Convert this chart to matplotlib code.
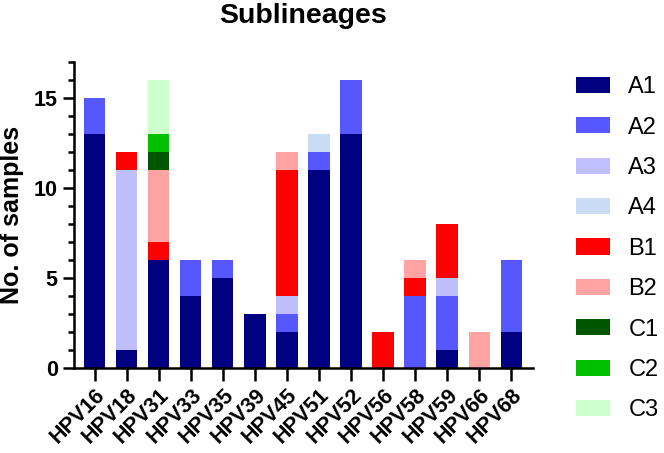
import numpy as np
import matplotlib
matplotlib.use("Agg")
import matplotlib.pyplot as plt
from matplotlib.ticker import MultipleLocator

plt.rcParams["font.family"] = ["Liberation Sans", "DejaVu Sans"]

types = ["HPV16", "HPV18", "HPV31", "HPV33", "HPV35", "HPV39", "HPV45",
         "HPV51", "HPV52", "HPV56", "HPV58", "HPV59", "HPV66", "HPV68"]

# counts per sublineage, one value per HPV type
A1 = [13, 1, 6, 4, 5, 3, 2, 11, 13, 0, 0, 1, 0, 2]
A2 = [2, 0, 0, 2, 1, 0, 1, 1, 3, 0, 4, 3, 0, 4]
A3 = [0, 10, 0, 0, 0, 0, 1, 0, 0, 0, 0, 1, 0, 0]
A4 = [0, 0, 0, 0, 0, 0, 0, 1, 0, 0, 0, 0, 0, 0]
B1 = [0, 1, 1, 0, 0, 0, 7, 0, 0, 2, 1, 3, 0, 0]
B2 = [0, 0, 4, 0, 0, 0, 1, 0, 0, 0, 1, 0, 2, 0]
C1 = [0, 0, 1, 0, 0, 0, 0, 0, 0, 0, 0, 0, 0, 0]
C2 = [0, 0, 1, 0, 0, 0, 0, 0, 0, 0, 0, 0, 0, 0]
C3 = [0, 0, 3, 0, 0, 0, 0, 0, 0, 0, 0, 0, 0, 0]

sublineages = ["A1", "A2", "A3", "A4", "B1", "B2", "C1", "C2", "C3"]
series = [A1, A2, A3, A4, B1, B2, C1, C2, C3]
colors = ["#000080", "#5757FF", "#BFBFFF", "#C8DCF6", "#FF0000",
          "#FFA3A3", "#005500", "#00C000", "#CCFFCC"]

fig = plt.figure(figsize=(6.64, 4.53), dpi=100)
ax = fig.add_axes([0.111, 0.188, 0.692, 0.675])

x = np.arange(len(types))
bottom = np.zeros(len(types))
for name, vals, col in zip(sublineages, series, colors):
    ax.bar(x, vals, width=0.66, bottom=bottom, color=col, label=name, linewidth=0)
    bottom += np.array(vals)

ax.set_xlim(-0.66, 13.69)
ax.set_ylim(0, 17)
ax.yaxis.set_major_locator(MultipleLocator(5))
ax.yaxis.set_minor_locator(MultipleLocator(1))
ax.set_xticks(x)
ax.set_xticklabels(types, rotation=45, ha="right", rotation_mode="anchor",
                   fontsize=15.5, fontweight="bold")
for lab in ax.get_yticklabels():
    lab.set_fontweight("bold")
ax.tick_params(axis="y", which="major", labelsize=15.5, width=1.8, length=8)
ax.tick_params(axis="y", which="minor", width=1.8, length=4)
ax.tick_params(axis="x", width=1.8, length=9, pad=3)

for s in ["top", "right"]:
    ax.spines[s].set_visible(False)
for s in ["left", "bottom"]:
    ax.spines[s].set_linewidth(1.8)

ax.set_ylabel("No. of samples", fontsize=18, fontweight="bold", labelpad=7)
ax.set_title("Sublineages", fontsize=20.5, fontweight="bold", pad=28)

fig.legend(loc="upper left", bbox_to_anchor=(0.868, 0.832), frameon=False,
           fontsize=17, handlelength=1.44, handleheight=0.68,
           labelspacing=0.78, handletextpad=0.76, borderpad=0, borderaxespad=0)

fig.savefig("out.png", dpi=100)
